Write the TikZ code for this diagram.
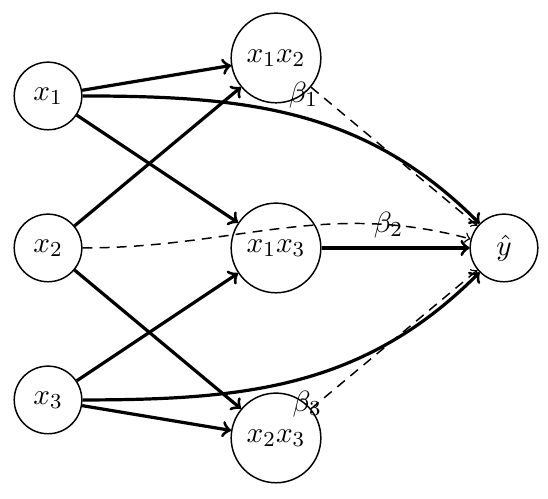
\documentclass[tikz,border=0pt]{standalone}
\usepackage{amsmath}
\usepackage{amssymb}
\usepackage{tikz}
\tikzset{neuron/.style={circle,draw,line width=0.55pt,inner sep=0pt,minimum size=0.89cm},
 product/.style={neuron,minimum size=1.18cm},
 weight/.style={->,line width=1.2pt},
 skip/.style={->,line width=0.55pt,dash pattern=on 3.7pt off 2.7pt},
 }

\begin{document}
\begin{tikzpicture}[font=\fontsize{11}{13}\selectfont]
        \useasboundingbox (-0.632,-3.303) rectangle (6.579,3.263);
        \node[neuron] (x1) at (0,2) {$x_1$};
        \node[neuron] (x2) at (0,0) {$x_2$};
        \node[neuron] (x3) at (0,-2) {$x_3$};
        \node[product] (x12) at (3,2.5) {$x_1x_2$};
        \node[product] (x13) at (3,0) {$x_1x_3$};
        \node[product] (x23) at (3,-2.5) {$x_2x_3$};
        \node[neuron] (y) at (6,0) {$\hat{y}$};
        \draw[weight] (x1) -- (x12);
        \draw[weight] (x1) -- (x13);
        \draw[weight] (x2) -- (x12);
        \draw[weight] (x2) -- (x23);
        \draw[weight] (x3) -- (x13);
        \draw[weight] (x3) -- (x23);
        \draw[weight] (x13) -- (y);
        \draw[weight] (x1) to[out=0,in=135] (y);
        \draw[weight] (x3) to[out=0,in=225] (y);
        \draw[skip] (x12) -- node[pos=0,xshift=-1mm,yshift=-1mm] {$\beta_1$} (y);
        \draw[skip] (x2) to[out=0,in=165] node[pos=0.8] {$\beta_2$} (y);
        \draw[skip] (x23) -- node[pos=0,xshift=-0.5mm,yshift=0.6mm] {$\beta_3$} (y);
    \end{tikzpicture}
\end{document}
